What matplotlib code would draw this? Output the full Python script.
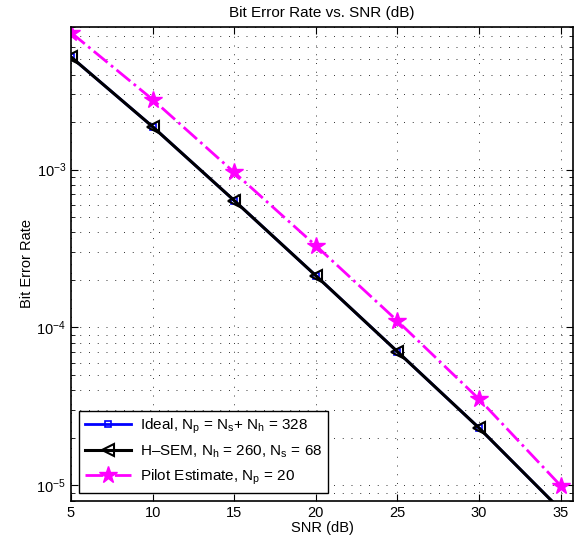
import matplotlib
matplotlib.use("Agg")
import matplotlib.pyplot as plt
from matplotlib.ticker import LogLocator, NullFormatter, FixedLocator

plt.rcParams['font.family'] = ['Liberation Sans', 'DejaVu Sans']
plt.rcParams['mathtext.fontset'] = 'custom'
plt.rcParams['mathtext.rm'] = 'Liberation Sans'
plt.rcParams['mathtext.it'] = 'Liberation Sans:italic'
plt.rcParams['mathtext.bf'] = 'Liberation Sans:bold'

snr = [5, 10, 15, 20, 25, 30, 35]
ber_ideal = [5.17e-3, 1.87e-3, 6.37e-4, 2.13e-4, 7.03e-5, 2.31e-5, 7.0e-6]
ber_hsem = [5.17e-3, 1.87e-3, 6.37e-4, 2.13e-4, 7.03e-5, 2.31e-5, 7.0e-6]
ber_pilot = [7.38e-3, 2.78e-3, 9.6e-4, 3.3e-4, 1.1e-4, 3.52e-5, 9.96e-6]

labels = ["Ideal, N$_{\\mathrm{p}}$ = N$_{\\mathrm{s}}$+ N$_{\\mathrm{h}}$ = 328",
          "H\u2013SEM, N$_{\\mathrm{h}}$ = 260, N$_{\\mathrm{s}}$ = 68",
          "Pilot Estimate, N$_{\\mathrm{p}}$ = 20"]
xticks = [5, 10, 15, 20, 25, 30, 35]

fig = plt.figure(figsize=(5.84, 5.46), dpi=100)
ax = fig.add_axes([0.1216, 0.083, 0.8594, 0.8675])

ax.semilogy(snr, ber_ideal, color='blue', lw=2, marker='s', ms=5,
            mfc='none', mec='blue', mew=1.2, label=labels[0])
ax.semilogy(snr, ber_hsem, color='black', lw=2.2, marker='<', ms=9,
            mfc='none', mec='black', mew=1.5, label=labels[1])
ax.semilogy(snr, ber_pilot, color='magenta', lw=2, ls='-.', marker='*', ms=13,
            mfc='magenta', mec='magenta', label=labels[2])

ax.set_xlim(5, 35.75)
ax.set_ylim(8e-6, 8e-3)
ax.xaxis.set_major_locator(FixedLocator(xticks))
ax.yaxis.set_major_locator(LogLocator(base=10, numticks=10))
ax.yaxis.set_minor_locator(LogLocator(base=10, subs=range(2, 10), numticks=20))
ax.yaxis.set_minor_formatter(NullFormatter())

gstyle = dict(ls=(0, (1, 8)), color='0.2', lw=0.7)
ax.grid(True, which='major', axis='both', **gstyle)
ax.grid(True, which='minor', axis='y', **gstyle)

ax.tick_params(which='both', direction='in', top=True, right=True, labelsize=10.5)
ax.tick_params(which='major', length=5)
ax.tick_params(which='minor', length=3)
for s in ax.spines.values():
    s.set_linewidth(1.2)

ax.set_xlabel("SNR (dB)", fontsize=10.5, labelpad=1)
ax.set_ylabel("Bit Error Rate", fontsize=10.5, labelpad=2)
ax.set_title("Bit Error Rate vs. SNR (dB)", fontsize=11, pad=7)

leg = ax.legend(loc='lower left', fontsize=11, fancybox=False, framealpha=1,
                edgecolor='black', borderaxespad=0.5, handlelength=3.0,
                labelspacing=0.5, borderpad=0.4, handletextpad=0.6)
leg.get_frame().set_linewidth(1.0)

fig.savefig("out.png", dpi=100)
